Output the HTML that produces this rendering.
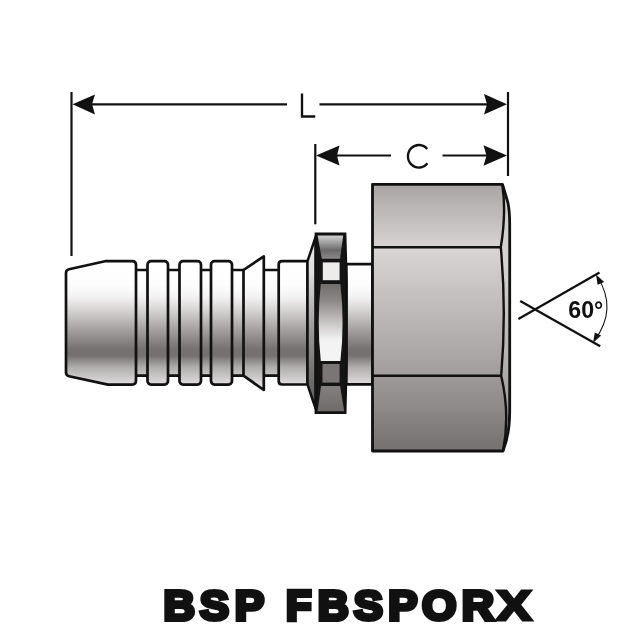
<!DOCTYPE html>
<html><head><meta charset="utf-8">
<style>
html,body{margin:0;padding:0;background:#fff;}
body{width:640px;height:640px;overflow:hidden;position:relative;font-family:"Liberation Sans",sans-serif;}
svg{position:absolute;left:0;top:0;display:block;}
text{font-family:"Liberation Sans",sans-serif;}
svg{will-change:transform;}
</style></head><body>
<svg width="640" height="640" viewBox="0 0 640 640">
<defs>
<linearGradient id="gT" x1="0" y1="261" x2="0" y2="384" gradientUnits="userSpaceOnUse">
<stop offset="0" stop-color="#ffffff"/><stop offset="0.2" stop-color="#fdfdfd"/><stop offset="0.3" stop-color="#f2f1f1"/><stop offset="0.39" stop-color="#d9d6d6"/><stop offset="0.55" stop-color="#a7a3a3"/><stop offset="0.66" stop-color="#868282"/><stop offset="0.72" stop-color="#757171"/><stop offset="0.77" stop-color="#757171"/><stop offset="0.86" stop-color="#aeabab"/><stop offset="1" stop-color="#dedcdc"/>
</linearGradient>
<linearGradient id="gCh" x1="0" y1="237" x2="0" y2="408" gradientUnits="userSpaceOnUse">
<stop offset="0" stop-color="#e8e8e8"/><stop offset="0.2" stop-color="#e0e0e0"/><stop offset="0.55" stop-color="#9a9797"/><stop offset="0.85" stop-color="#6c6969"/><stop offset="1" stop-color="#656262"/>
</linearGradient>
<linearGradient id="gN1" x1="0" y1="185" x2="0" y2="247" gradientUnits="userSpaceOnUse">
<stop offset="0" stop-color="#aaa5a5"/><stop offset="1" stop-color="#d7d3d3"/>
</linearGradient>
<linearGradient id="gN2" x1="0" y1="247" x2="0" y2="376" gradientUnits="userSpaceOnUse">
<stop offset="0" stop-color="#dad6d6"/><stop offset="1" stop-color="#a29d9d"/>
</linearGradient>
<linearGradient id="gN3" x1="0" y1="376" x2="0" y2="451" gradientUnits="userSpaceOnUse">
<stop offset="0" stop-color="#9f9a9a"/><stop offset="1" stop-color="#767171"/>
</linearGradient>
<linearGradient id="gNc" x1="0" y1="185" x2="0" y2="451" gradientUnits="userSpaceOnUse">
<stop offset="0" stop-color="#cfcbcb"/><stop offset="0.3" stop-color="#d6d2d2"/><stop offset="0.7" stop-color="#b0acac"/><stop offset="1" stop-color="#8e8a8a"/>
</linearGradient>
<linearGradient id="gLt" x1="0" y1="234" x2="0" y2="259" gradientUnits="userSpaceOnUse">
<stop offset="0" stop-color="#d6d6d6"/><stop offset="0.15" stop-color="#c2c2c2"/><stop offset="0.65" stop-color="#6b6969"/><stop offset="1" stop-color="#8c8989"/>
</linearGradient>
<linearGradient id="gLb" x1="0" y1="385" x2="0" y2="412" gradientUnits="userSpaceOnUse">
<stop offset="0" stop-color="#858181"/><stop offset="1" stop-color="#6e6a6a"/>
</linearGradient>
<linearGradient id="gLens" x1="0" y1="283" x2="0" y2="362" gradientUnits="userSpaceOnUse">
<stop offset="0" stop-color="#6e6b6b"/><stop offset="0.21" stop-color="#8a8686"/><stop offset="0.46" stop-color="#c0bcbc"/><stop offset="0.72" stop-color="#f2f2f2"/><stop offset="1" stop-color="#f4f4f4"/>
</linearGradient>
</defs>
<rect width="640" height="640" fill="#fff"/>

<!-- dimension lines -->
<g stroke="#111" stroke-width="2.2" fill="none">
<line x1="71.5" y1="92" x2="71.5" y2="256"/>
<line x1="508" y1="92" x2="508" y2="176"/>
<line x1="315.3" y1="144" x2="315.3" y2="224.3"/>
<line x1="90" y1="104.3" x2="287" y2="104.3"/>
<line x1="319.5" y1="104.3" x2="488" y2="104.3"/>
<line x1="335" y1="155.5" x2="391" y2="155.5"/>
<line x1="442.5" y1="155.5" x2="488" y2="155.5"/>
</g>
<g fill="#111">
<path d="M72.5 104.3 L95 94.5 L92 104.3 L95 114.5 Z"/>
<path d="M507 104.3 L484 94 L487 104.3 L484 114.5 Z"/>
<path d="M316 155.5 L339.5 145.5 L337 155.5 L339.5 165.5 Z"/>
<path d="M507 155.5 L483.5 145.3 L486.5 155.7 L483.5 165.8 Z"/>
</g>
<path d="M302 93.6 L302 116.5 M300.85 116.45 L315.2 116.45" stroke="#111" stroke-width="2.35" fill="none"/>
<path d="M427.2 149 A10.9 11.3 0 1 0 427.4 163.3" stroke="#111" stroke-width="2.35" fill="none"/>

<!-- tail -->
<g stroke="#111" stroke-width="2.7" stroke-linejoin="round" fill="url(#gT)">
<rect x="130" y="270" width="120" height="105.7"/>
<rect x="262" y="270" width="20" height="105.7"/>
<path d="M66 273 Q66 270 69 269.3 L105 261.2 L132 261.2 Q136 261.2 136 265 L136 380.6 Q136 384.6 132 384.6 L108 384.6 L69 376.2 Q66 375.5 66 372.5 Z"/>
<rect x="147.5" y="261.2" width="20.5" height="123.4" rx="3.5"/>
<rect x="179.5" y="261.2" width="21.5" height="123.4" rx="3.5"/>
<rect x="211" y="261.2" width="21" height="123.4" rx="3.5"/>
<path d="M243.5 270 L263.8 256.3 L263.8 390 L243.5 375.7 Z"/>
<path d="M282 261.2 L307.5 261.2 L307.5 384.5 L282 384.5 Q278.7 384.5 278.7 381 L278.7 264.5 Q278.7 261.2 282 261.2 Z"/>
<rect x="346.2" y="264.2" width="26.3" height="120.1"/>
</g>
<path d="M307.5 261.2 L315.6 237 L315.6 408.5 L307.5 384.5 Z" fill="url(#gCh)" stroke="#111" stroke-width="2.5" stroke-linejoin="round"/>

<!-- lock nut -->
<path d="M315.9 233.8 L345.1 233.8 L346.5 283 L346.5 362 L345.2 412.6 L315.9 412.6 Z" fill="#141414" stroke="#111" stroke-width="2.6" stroke-linejoin="miter"/>
<path d="M317.6 235.5 L343.2 235.5 L340 258.8 L321.8 258.8 Z" fill="url(#gLt)"/>
<rect x="322.8" y="262.4" width="16.8" height="17.8" fill="#eeebeb"/>
<path d="M320.8 284 Q316.6 322 320.8 361 L340.4 361 Q344.8 322 340.4 284 Z" fill="url(#gLens)"/>
<rect x="322.5" y="364" width="17.1" height="18.6" fill="#7a7676"/>
<path d="M321 386 L340.1 386 L344.2 411.2 L317.6 411.2 Z" fill="url(#gLb)"/>

<!-- big nut -->
<path d="M372.5 184.3 L502.5 184.3 L508 203 Q509.7 212 509.7 224 L509.7 412 Q509.7 434 503 451 L372.5 451 Z" fill="url(#gNc)"/>
<path d="M373 185 L502.3 185 Q506.5 212 500.8 247 L373 247 Z" fill="url(#gN1)"/>
<path d="M373 247 L500.8 247 Q506.6 311 501.2 376 L373 376 Z" fill="url(#gN2)"/>
<path d="M373 376 L501.2 376 Q510.3 415 502.5 450 L373 450 Z" fill="url(#gN3)"/>
<g stroke="#111" stroke-width="2.5" fill="none" stroke-linejoin="round">
<line x1="372.5" y1="247.3" x2="500.8" y2="247.3"/>
<line x1="372.5" y1="375.8" x2="501.2" y2="375.8"/>
<path d="M502.3 184.3 Q506.5 212 500.8 247.3 Q506.6 311 501.2 375.8 Q510.3 415 503 451" stroke-width="2.4"/>
<path d="M372.5 184.3 L502.5 184.3 L508 203 Q509.7 212 509.7 224 L509.7 412 Q509.7 434 503 451 L372.5 451 Z" stroke-width="2.8"/>
</g>

<!-- 60 degree symbol -->
<g stroke="#111" stroke-width="2.3" fill="none">
<line x1="518.4" y1="319" x2="599.5" y2="272.5"/>
<line x1="520.2" y1="301" x2="600.2" y2="346.3"/>
<path d="M597.8 277.5 Q617.6 309 594.8 340" stroke-width="1.05"/>
</g>
<path d="M596 274.6 L604.2 282 L597.6 284.8 Z" fill="#111"/>
<path d="M593 342.8 L601.2 335.6 L594.8 332.6 Z" fill="#111"/>
<text x="568.3" y="318.2" font-size="24" font-weight="bold" fill="#111" textLength="35" lengthAdjust="spacingAndGlyphs">60°</text>

<!-- caption -->
<g id="cap"><text transform="translate(163.58 619.80) scale(1.0138 1)" font-size="43.02" font-weight="bold" fill="#111" stroke="#111" stroke-width="4.20" stroke-linejoin="miter" style="vector-effect:non-scaling-stroke">B</text>
<text transform="translate(199.84 619.80) scale(1.0203 1)" font-size="43.02" font-weight="bold" fill="#111" stroke="#111" stroke-width="4.20" stroke-linejoin="miter" style="vector-effect:non-scaling-stroke">S</text>
<text transform="translate(234.64 619.80) scale(1.0268 1)" font-size="43.02" font-weight="bold" fill="#111" stroke="#111" stroke-width="4.20" stroke-linejoin="miter" style="vector-effect:non-scaling-stroke">P</text>
<text transform="translate(285.90 619.80) scale(0.9713 1)" font-size="43.02" font-weight="bold" fill="#111" stroke="#111" stroke-width="4.20" stroke-linejoin="miter" style="vector-effect:non-scaling-stroke">F</text>
<text transform="translate(317.83 619.80) scale(0.9985 1)" font-size="43.02" font-weight="bold" fill="#111" stroke="#111" stroke-width="4.20" stroke-linejoin="miter" style="vector-effect:non-scaling-stroke">B</text>
<text transform="translate(353.84 619.80) scale(1.0164 1)" font-size="43.02" font-weight="bold" fill="#111" stroke="#111" stroke-width="4.20" stroke-linejoin="miter" style="vector-effect:non-scaling-stroke">S</text>
<text transform="translate(388.17 619.80) scale(1.0186 1)" font-size="43.02" font-weight="bold" fill="#111" stroke="#111" stroke-width="4.20" stroke-linejoin="miter" style="vector-effect:non-scaling-stroke">P</text>
<text transform="translate(422.08 619.80) scale(1.0303 1)" font-size="43.02" font-weight="bold" fill="#111" stroke="#111" stroke-width="4.20" stroke-linejoin="miter" style="vector-effect:non-scaling-stroke">O</text>
<text transform="translate(461.81 619.80) scale(1.0399 1)" font-size="43.02" font-weight="bold" fill="#111" stroke="#111" stroke-width="4.20" stroke-linejoin="miter" style="vector-effect:non-scaling-stroke">R</text>
<text transform="translate(496.52 619.80) scale(1.2219 1)" font-size="43.02" font-weight="bold" fill="#111" stroke="#111" stroke-width="3.36" stroke-linejoin="miter" style="vector-effect:non-scaling-stroke">X</text></g>

</svg>
</body></html>
